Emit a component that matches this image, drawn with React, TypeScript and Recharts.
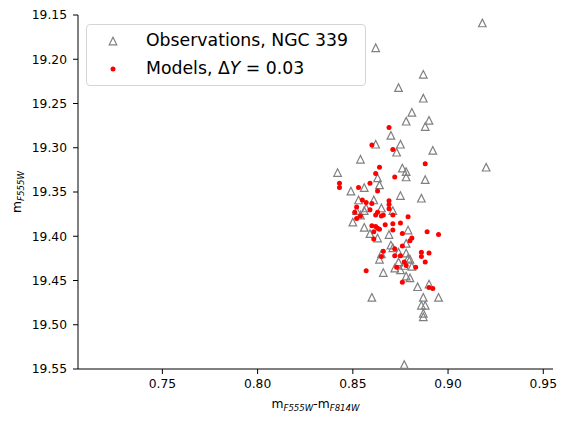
import { ScatterChart, Scatter, XAxis, YAxis, Legend } from "recharts"

// Observed colour (F555W - F814W) and magnitude (F555W)
const obsColor = [
  0.918, 0.887, 0.874, 0.887, 0.881, 0.878, 0.89, 0.888, 0.87, 0.862, 0.875, 0.873, 0.892, 0.854,
  0.92, 0.876, 0.878, 0.842, 0.878, 0.888, 0.863, 0.864, 0.856, 0.849, 0.875, 0.886, 0.853, 0.861,
  0.852, 0.856, 0.871, 0.865, 0.857, 0.854, 0.85, 0.856, 0.859, 0.863, 0.869, 0.879, 0.878, 0.87,
  0.871, 0.865, 0.874, 0.878, 0.864, 0.879, 0.874, 0.88, 0.877, 0.881, 0.872, 0.875, 0.866, 0.878,
  0.88, 0.884, 0.89, 0.895, 0.86, 0.887, 0.886, 0.888, 0.887, 0.887, 0.877, 0.862,
]
const obsMag = [
  19.159, 19.217, 19.232, 19.244, 19.26, 19.27, 19.269, 19.276, 19.286, 19.296, 19.296, 19.305,
  19.303, 19.313, 19.322, 19.323, 19.327, 19.328, 19.333, 19.336, 19.334, 19.342, 19.345, 19.349,
  19.354, 19.357, 19.359, 19.359, 19.371, 19.371, 19.371, 19.368, 19.368, 19.376, 19.384, 19.39,
  19.397, 19.402, 19.398, 19.393, 19.408, 19.41, 19.413, 19.42, 19.418, 19.419, 19.426, 19.425,
  19.429, 19.426, 19.433, 19.434, 19.436, 19.438, 19.441, 19.445, 19.447, 19.457, 19.454, 19.469,
  19.469, 19.469, 19.478, 19.478, 19.487, 19.491, 19.545, 19.187,
]

// Model colour and magnitude, delta Y = 0.03
const modelColor = [
  0.869, 0.86, 0.871, 0.888, 0.864, 0.862, 0.872, 0.843, 0.843, 0.859, 0.853, 0.863, 0.855, 0.857,
  0.869, 0.869, 0.86, 0.852, 0.859, 0.863, 0.869, 0.862, 0.865, 0.866, 0.871, 0.879, 0.852, 0.854,
  0.86, 0.863, 0.864, 0.867, 0.871, 0.875, 0.871, 0.861, 0.861, 0.876, 0.889, 0.895, 0.881, 0.88,
  0.876, 0.872, 0.866, 0.886, 0.89, 0.886, 0.888, 0.865, 0.872, 0.875, 0.877, 0.873, 0.878, 0.883,
  0.857, 0.876, 0.89, 0.892, 0.851, 0.862,
]
const modelMag = [
  19.277, 19.297, 19.302, 19.318, 19.322, 19.329, 19.333, 19.34, 19.345, 19.34, 19.345, 19.349,
  19.359, 19.362, 19.36, 19.364, 19.363, 19.367, 19.37, 19.373, 19.369, 19.376, 19.377, 19.376,
  19.376, 19.378, 19.38, 19.377, 19.388, 19.391, 19.392, 19.387, 19.386, 19.385, 19.393, 19.395,
  19.403, 19.397, 19.395, 19.398, 19.402, 19.405, 19.411, 19.414, 19.417, 19.418, 19.419, 19.423,
  19.429, 19.423, 19.422, 19.422, 19.429, 19.435, 19.433, 19.435, 19.439, 19.452, 19.458, 19.459,
  19.373, 19.389,
]

const xTicks = [0.75, 0.8, 0.85, 0.9, 0.95]
const yTicks = [19.15, 19.2, 19.25, 19.3, 19.35, 19.4, 19.45, 19.5, 19.55]

const FONT = "'DejaVu Sans', sans-serif"

const observations = obsColor.map((x, i) => ({ x, y: obsMag[i] }))
const models = modelColor.map((x, i) => ({ x, y: modelMag[i] }))

function OpenTriangle(props: any) {
  const { cx, cy } = props
  if (cx == null || cy == null) return null
  const r = 3.8
  return (
    <polygon
      points={`${cx},${cy - r} ${cx - r},${cy + r} ${cx + r},${cy + r}`}
      fill="none"
      stroke="#808080"
      strokeWidth={1.2}
    />
  )
}

function RedDot(props: any) {
  const { cx, cy } = props
  if (cx == null || cy == null) return null
  return <circle cx={cx} cy={cy} r={2.5} fill="#ff0000" />
}

function XLabel(props: any) {
  const vb = props.viewBox || { x: 78, y: 369, width: 475 }
  const x = vb.x + vb.width / 2
  const y = vb.y + 39
  return (
    <text x={x} y={y} textAnchor="middle" fontFamily={FONT} fontSize={12.3} fill="#000">
      m
      <tspan fontSize={8.6} fontStyle="italic" dy={3}>F555W</tspan>
      <tspan dy={-3}>-m</tspan>
      <tspan fontSize={8.6} fontStyle="italic" dy={3}>F814W</tspan>
    </text>
  )
}

function YLabel(props: any) {
  const vb = props.viewBox || { y: 15, height: 354 }
  const x = 21
  const y = vb.y + vb.height / 2
  return (
    <text
      x={x}
      y={y}
      transform={`rotate(-90, ${x}, ${y})`}
      textAnchor="middle"
      fontFamily={FONT}
      fontSize={12.3}
      fill="#000"
    >
      m
      <tspan fontSize={8.6} fontStyle="italic" dy={3}>F555W</tspan>
    </text>
  )
}

function LegendBox() {
  const row = { height: 28, display: "flex", alignItems: "center" } as const
  const icon = { width: 52, display: "flex", justifyContent: "center" } as const
  return (
    <div
      style={{
        width: 280,
        height: 62,
        boxSizing: "border-box",
        paddingTop: 2,
        border: "1px solid #d5d5d5",
        borderRadius: 4,
        background: "rgba(255,255,255,0.8)",
        fontFamily: FONT,
        fontSize: 17.3,
        color: "#000",
        lineHeight: 1,
      }}
    >
      <div style={row}>
        <div style={icon}>
          <svg width={10} height={10}>
            <polygon points="5,1.2 1.2,8.8 8.8,8.8" fill="none" stroke="#808080" strokeWidth={1.2} />
          </svg>
        </div>
        <span style={{ marginLeft: 7 }}>Observations, NGC 339</span>
      </div>
      <div style={row}>
        <div style={icon}>
          <svg width={10} height={10}>
            <circle cx={5} cy={5} r={2.5} fill="#ff0000" />
          </svg>
        </div>
        <span style={{ marginLeft: 7 }}>
          Models, Δ<i>Y</i> = 0.03
        </span>
      </div>
    </div>
  )
}

export default function App() {
  const tickStyle = { fill: "#000", fontSize: 12.3, fontFamily: FONT }
  return (
    <div style={{ position: "absolute", left: 0, top: 0, width: 568, height: 422, background: "#fff" }}>
      <ScatterChart width={568} height={422} margin={{ top: 15, right: 15, bottom: 0, left: 0 }}>
        <XAxis
          type="number"
          dataKey="x"
          domain={[0.7057, 0.9551]}
          allowDataOverflow
          ticks={xTicks}
          tickFormatter={(v: number) => v.toFixed(2)}
          height={53}
          tickSize={5}
          tickMargin={5}
          stroke="#000"
          tick={tickStyle}
          label={XLabel}
        />
        <YAxis
          type="number"
          dataKey="y"
          reversed
          domain={[19.15, 19.55]}
          allowDataOverflow
          ticks={yTicks}
          tickFormatter={(v: number) => v.toFixed(2)}
          width={78}
          tickSize={5}
          tickMargin={6}
          stroke="#000"
          tick={tickStyle}
          label={YLabel}
        />
        <XAxis
          xAxisId="top"
          orientation="top"
          type="number"
          domain={[0, 1]}
          tick={false}
          tickLine={false}
          height={0}
          stroke="#000"
        />
        <YAxis
          yAxisId="right"
          orientation="right"
          type="number"
          domain={[0, 1]}
          tick={false}
          tickLine={false}
          width={0}
          stroke="#000"
        />
        <Legend
          layout="vertical"
          align="center"
          verticalAlign="middle"
          wrapperStyle={{ left: 86, top: 24, width: 280 }}
          content={() => <LegendBox />}
        />
        <Scatter name="Observations, NGC 339" data={observations} shape={OpenTriangle} isAnimationActive={false} />
        <Scatter name="Models" data={models} shape={RedDot} isAnimationActive={false} />
      </ScatterChart>
    </div>
  )
}
